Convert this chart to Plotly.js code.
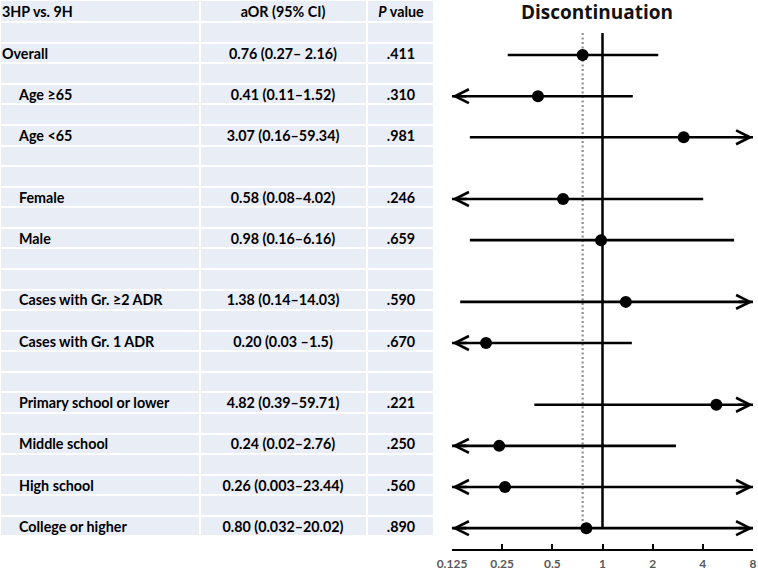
<!DOCTYPE html>
<html>
<head>
<meta charset="utf-8">
<script src="https://cdn.plot.ly/plotly-3.0.1.min.js"></script>
<style>html,body{margin:0;padding:0;background:#fff;}#chart{width:758px;height:572px;}</style>
</head>
<body>
<div id="chart"></div>
<script>
// ---- data ----
const headers = ["3HP vs. 9H", "aOR (95% CI)", "<i>P</i> value"];
const labels = ["Overall", "Age ≥65", "Age <65", "Female", "Male",
  "Cases with Gr. ≥2 ADR", "Cases with Gr. 1 ADR",
  "Primary school or lower", "Middle school", "High school", "College or higher"];
const rowIdx = [2, 4, 6, 9, 11, 14, 16, 19, 21, 23, 25];
const indented = [false, true, true, true, true, true, true, true, true, true, true];
const aor = [0.76, 0.41, 3.07, 0.58, 0.98, 1.38, 0.20, 4.82, 0.24, 0.26, 0.80];
const ciLow = [0.27, 0.11, 0.16, 0.08, 0.16, 0.14, 0.03, 0.39, 0.02, 0.003, 0.032];
const ciHigh = [2.16, 1.52, 59.34, 4.02, 6.16, 14.03, 1.5, 59.71, 2.76, 23.44, 20.02];
const ciText = ["0.76 (0.27– 2.16)", "0.41 (0.11–1.52)", "3.07 (0.16–59.34)",
  "0.58 (0.08–4.02)", "0.98 (0.16–6.16)", "1.38 (0.14–14.03)", "0.20 (0.03 –1.5)",
  "4.82 (0.39–59.71)", "0.24 (0.02–2.76)", "0.26 (0.003–23.44)", "0.80 (0.032–20.02)"];
const pVals = [".411", ".310", ".981", ".246", ".659", ".590", ".670", ".221", ".250", ".560", ".890"];
const tickVals = [0.125, 0.25, 0.5, 1, 2, 4, 8];
const tickText = ["0.125", "0.25", "0.5", "1", "2", "4", "8"];
const refValue = 1;
const overallValue = aor[0];

// ---- layout constants ----
const W = 758, H = 572;
const rowPx = 20.57, rowOff = 13.9;          // row r centre at rowPx*r + rowOff px
const toRow = p => (p - rowOff) / rowPx;
const yTopRow = toRow(0), yBotRow = toRow(H);
const plotTopRow = toRow(33);
const xMin = 0.125, xMax = 8;
const nRows = 26;
const colEdges = [0, 200, 367, 434];
const colCenters = [0, 283, 401];

// table background cells (heatmap bricks)
const yEdges = [yTopRow];
for (let k = 0; k < nRows; k++) yEdges.push(k + 0.4);
const z = [];
for (let k = 0; k < nRows; k++) z.push([1, 1, 1]);

const fontFam = "Lato, 'Open Sans', sans-serif";
const tblFont = {family: fontFam, size: 14.3, color: '#000', weight: 'bold'};
const traces = [];
traces.push({
  type: 'heatmap', x: colEdges, y: yEdges, z: z, xaxis: 'x2', yaxis: 'y',
  colorscale: [[0, '#e9edf5'], [1, '#e9edf5']], showscale: false,
  xgap: 2, ygap: 2, hoverinfo: 'skip'
});

// table text
const c1x = [2], c1y = [0], c1t = [headers[0]];
labels.forEach((l, i) => { c1x.push(indented[i] ? 19 : 2); c1y.push(rowIdx[i]); c1t.push(l); });
traces.push({
  type: 'scatter', mode: 'text', x: c1x, y: c1y, text: c1t, xaxis: 'x2', yaxis: 'y',
  textposition: 'middle right', textfont: tblFont, hoverinfo: 'skip', showlegend: false
});
traces.push({
  type: 'scatter', mode: 'text', x: Array(labels.length + 1).fill(colCenters[1]),
  y: [0].concat(rowIdx), text: [headers[1]].concat(ciText), xaxis: 'x2', yaxis: 'y',
  textposition: 'middle center', textfont: tblFont, hoverinfo: 'skip', showlegend: false
});
traces.push({
  type: 'scatter', mode: 'text', x: Array(labels.length + 1).fill(colCenters[2]),
  y: [0].concat(rowIdx), text: [headers[2]].concat(pVals), xaxis: 'x2', yaxis: 'y',
  textposition: 'middle center', textfont: tblFont, hoverinfo: 'skip', showlegend: false
});

// reference lines
traces.push({
  type: 'scatter', mode: 'lines', x: [overallValue, overallValue], y: [plotTopRow, rowIdx[rowIdx.length - 1] + 0.1],
  line: {color: '#8f8f8f', width: 2.2, dash: '2px,2.5px'}, hoverinfo: 'skip', showlegend: false
});
traces.push({
  type: 'scatter', mode: 'lines', x: [refValue, refValue], y: [plotTopRow, rowIdx[rowIdx.length - 1]],
  line: {color: '#000', width: 2.5}, hoverinfo: 'skip', showlegend: false
});

// CI lines
const annotations = [];
labels.forEach((l, i) => {
  const lo = Math.max(ciLow[i], xMin), hi = Math.min(ciHigh[i], xMax);
  traces.push({
    type: 'scatter', mode: 'lines', x: [lo, hi], y: [rowIdx[i], rowIdx[i]],
    line: {color: '#000', width: 2.6}, hoverinfo: 'skip', showlegend: false
  });
  if (ciLow[i] < xMin) annotations.push({
    x: Math.log10(xMin), y: rowIdx[i], xref: 'x', yref: 'y', ax: 16, ay: 0, text: '',
    showarrow: true, arrowhead: 5, arrowsize: 1.05, arrowwidth: 2.6, arrowcolor: '#000', standoff: 0
  });
  if (ciHigh[i] > xMax) annotations.push({
    x: Math.log10(xMax), y: rowIdx[i], xref: 'x', yref: 'y', ax: -16, ay: 0, text: '',
    showarrow: true, arrowhead: 5, arrowsize: 1.05, arrowwidth: 2.6, arrowcolor: '#000', standoff: 0
  });
});

// points
traces.push({
  type: 'scatter', mode: 'markers', x: aor, y: rowIdx,
  marker: {color: '#000', size: 12}, hoverinfo: 'skip', showlegend: false
});

const layout = {
  width: W, height: H, margin: {l: 0, r: 0, t: 0, b: 0},
  paper_bgcolor: '#fff', plot_bgcolor: 'rgba(0,0,0,0)', showlegend: false,
  title: {text: '<b>Discontinuation</b>', x: 597 / W, xanchor: 'center', xref: 'paper',
    y: 1 - 12 / H, yanchor: 'middle', yref: 'container',
    font: {family: "'Open Sans', sans-serif", size: 19, color: '#111'}},
  xaxis: {
    type: 'log', domain: [452 / W, 753 / W], range: [Math.log10(xMin), Math.log10(xMax)],
    anchor: 'free', position: 1 - 550 / H, side: 'bottom',
    tickmode: 'array', tickvals: tickVals, ticktext: tickText,
    ticks: 'inside', ticklen: 5, tickwidth: 2, tickcolor: '#000',
    showline: true, linecolor: '#000', linewidth: 2, showgrid: false, zeroline: false,
    tickfont: {family: fontFam, size: 12, color: '#595959', weight: 'bold'},
    ticklabelstandoff: 3
  },
  xaxis2: {domain: [0, 434 / W], range: [0, 434], anchor: 'y', visible: false, fixedrange: true},
  yaxis: {domain: [0, 1], range: [yBotRow, yTopRow], visible: false, fixedrange: true},
  annotations: annotations
};

Plotly.newPlot('chart', traces, layout, {staticPlot: true, displayModeBar: false});
</script>
</body>
</html>
